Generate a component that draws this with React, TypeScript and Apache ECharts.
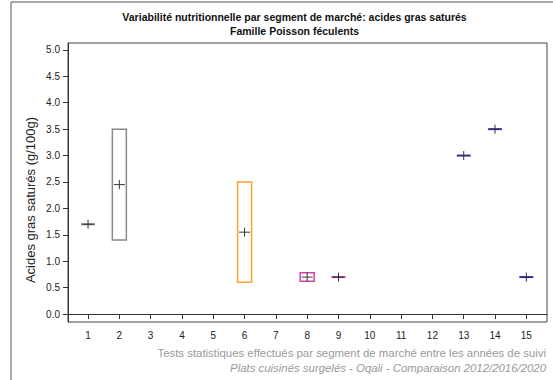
import React, { useEffect, useRef } from "react";
import * as echarts from "echarts";

const titleLines = [
  "Variabilité nutritionnelle par segment de marché: acides gras saturés",
  "Famille Poisson féculents",
];
const yAxisTitle = "Acides gras saturés (g/100g)";
const footerLines = [
  "Tests statistiques effectués par segment de marché entre les années de suivi",
  "Plats cuisinés surgelés - Oqali - Comparaison 2012/2016/2020",
];
const xTicks = [1, 2, 3, 4, 5, 6, 7, 8, 9, 10, 11, 12, 13, 14, 15];
const yTicks = [0, 0.5, 1, 1.5, 2, 2.5, 3, 3.5, 4, 4.5, 5];

const segments = [1, 2, 6, 8, 9, 13, 14, 15];
const minValues = [1.7, 1.4, 0.6, 0.62, 0.7, 3.0, 3.5, 0.7];
const maxValues = [1.7, 3.5, 2.5, 0.78, 0.7, 3.0, 3.5, 0.7];
const meanValues = [1.7, 2.45, 1.55, 0.7, 0.7, 3.0, 3.5, 0.7];
const segmentColors = ["#888888", "#888888", "#ff9f2e", "#d63fa6", "#b03a9a", "#2f2fd0", "#3a3ad0", "#2f2fd0"];

export default function App() {
  const ref = useRef<HTMLDivElement>(null);
  useEffect(() => {
    if (!ref.current) return;
    const chart = echarts.init(ref.current, null, { renderer: "svg" });
    const data = segments.map((s, i) => [s, minValues[i], maxValues[i], meanValues[i], i]);
    chart.setOption({
      animation: false,
      textStyle: { fontFamily: "Liberation Sans, Arial, sans-serif" },
      grid: {
        left: 68,
        right: 6,
        top: 43,
        bottom: 58,
        show: true,
        borderColor: "#444",
        borderWidth: 1,
        backgroundColor: "#fff",
      },
      xAxis: {
        type: "value",
        min: 0.36,
        max: 15.66,
        splitLine: { show: false },
        axisLine: { show: true, lineStyle: { color: "#333" } },
        axisTick: { show: true, customValues: xTicks, length: 5, lineStyle: { color: "#333" } },
        axisLabel: { customValues: xTicks, color: "#222", fontSize: 10, margin: 8 },
      },
      yAxis: {
        type: "value",
        min: -0.15,
        max: 5.13,
        splitLine: { show: false },
        axisLine: { show: true, lineStyle: { color: "#333" } },
        axisTick: { show: true, customValues: yTicks, length: 5, lineStyle: { color: "#333" } },
        axisLabel: {
          customValues: yTicks,
          color: "#222",
          fontSize: 10,
          margin: 8,
          formatter: (v: number) => v.toFixed(1),
        },
      },
      series: [
        {
          type: "custom",
          data,
          renderItem: (params: any, api: any) => {
            const x = api.value(0);
            const lo = api.value(1);
            const hi = api.value(2);
            const mean = api.value(3);
            const idx = api.value(4);
            const color = segmentColors[idx];
            const pLo = api.coord([x, lo]);
            const pHi = api.coord([x, hi]);
            const pM = api.coord([x, mean]);
            const half = 7;
            const children: any[] = [];
            if (Math.abs(pLo[1] - pHi[1]) < 1) {
              children.push({
                type: "line",
                shape: { x1: pLo[0] - half, y1: pLo[1], x2: pLo[0] + half, y2: pLo[1] },
                style: { stroke: color, lineWidth: 2 },
              });
            } else {
              children.push({
                type: "rect",
                shape: { x: pHi[0] - half, y: pHi[1], width: half * 2, height: pLo[1] - pHi[1] },
                style: { fill: "none", stroke: color, lineWidth: 1.5 },
              });
            }
            children.push({
              type: "line",
              shape: { x1: pM[0] - 5.5, y1: pM[1], x2: pM[0] + 5.5, y2: pM[1] },
              style: { stroke: "#333", lineWidth: 1 },
            });
            children.push({
              type: "line",
              shape: { x1: pM[0], y1: pM[1] - 4.5, x2: pM[0], y2: pM[1] + 4.5 },
              style: { stroke: "#333", lineWidth: 1 },
            });
            return { type: "group", children };
          },
        },
      ],
      graphic: [
        {
          type: "line",
          shape: { x1: 11, y1: 2, x2: 553, y2: 2 },
          style: { stroke: "#555", lineWidth: 1 },
        },
        {
          type: "line",
          shape: { x1: 11, y1: 2, x2: 11, y2: 380 },
          style: { stroke: "#555", lineWidth: 1 },
        },
        {
          type: "text",
          x: 294.5,
          y: 17,
          style: {
            text: titleLines[0],
            textAlign: "center",
            textVerticalAlign: "middle",
            font: "bold 10.5px Liberation Sans, Arial, sans-serif",
            fill: "#111",
          },
        },
        {
          type: "text",
          x: 294.5,
          y: 31,
          style: {
            text: titleLines[1],
            textAlign: "center",
            textVerticalAlign: "middle",
            font: "bold 10.5px Liberation Sans, Arial, sans-serif",
            fill: "#111",
          },
        },
        {
          type: "text",
          x: 30,
          y: 200,
          rotation: Math.PI / 2,
          style: {
            text: yAxisTitle,
            textAlign: "center",
            textVerticalAlign: "middle",
            font: "13px Liberation Sans, Arial, sans-serif",
            fill: "#222",
          },
        },
        {
          type: "text",
          x: 546,
          y: 353,
          style: {
            text: footerLines[0],
            textAlign: "right",
            textVerticalAlign: "middle",
            font: "11.4px Liberation Sans, Arial, sans-serif",
            fill: "#999",
          },
        },
        {
          type: "text",
          x: 546,
          y: 368,
          style: {
            text: footerLines[1],
            textAlign: "right",
            textVerticalAlign: "middle",
            font: "italic 11.4px Liberation Sans, Arial, sans-serif",
            fill: "#999",
          },
        },
      ],
    });
    return () => chart.dispose();
  }, []);
  return <div ref={ref} style={{ width: 553, height: 380, position: "absolute", left: 0, top: 0 }} />;
}
